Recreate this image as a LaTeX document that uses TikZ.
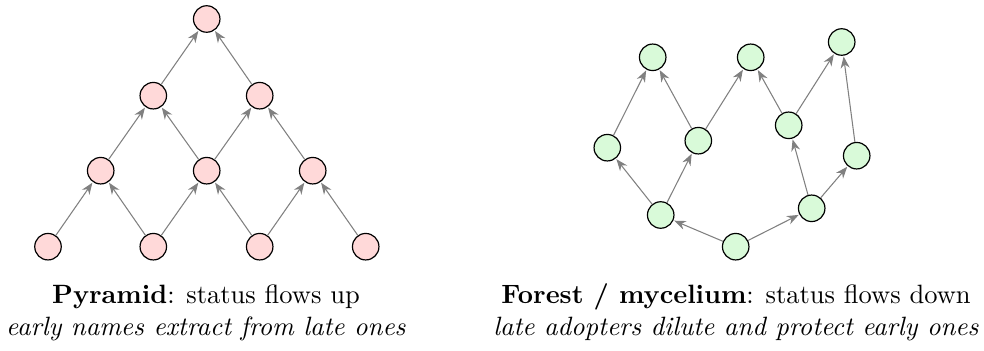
\documentclass[tikz,border=0pt]{standalone}
\usetikzlibrary{arrows.meta}
\definecolor{pinkfill}{RGB}{255,217,217}
\definecolor{greenfill}{RGB}{217,250,217}
\definecolor{edgegray}{RGB}{128,128,128}
\begin{document}
\begin{tikzpicture}[x=0.3774pt,y=-0.3774pt,
  pnode/.style={circle,draw=black,line width=0.45pt,fill=pinkfill,minimum size=10pt,inner sep=0pt},
  gnode/.style={pnode,fill=greenfill},
  flow/.style={draw=edgegray,line width=0.4pt,-{Stealth[length=4.4pt,width=3.4pt]},shorten >=0.3pt},
  caption/.style={align=center,font=\normalsize}]
\useasboundingbox (0,0) rectangle (984,351);
% Pyramid
\node[pnode] (t)  at (206.7,19) {};
\node[pnode] (m1) at (153.3,95.7) {};
\node[pnode] (m2) at (259.7,95.7) {};
\node[pnode] (l1) at (100.7,170.7) {};
\node[pnode] (l2) at (206.7,170.7) {};
\node[pnode] (l3) at (312.7,170.7) {};
\node[pnode] (b1) at (48,246.7) {};
\node[pnode] (b2) at (153.3,246.7) {};
\node[pnode] (b3) at (259.7,246.7) {};
\node[pnode] (b4) at (365.7,246.7) {};
\foreach \a/\b in {b1/l1,b2/l1,b2/l2,b3/l2,b3/l3,b4/l3,l1/m1,l2/m1,l2/m2,l3/m2,m1/t,m2/t}
  \draw[flow] (\a) -- (\b);
% Forest
\node[gnode] (a1) at (652.7,57.3) {};
\node[gnode] (a2) at (750.7,57.3) {};
\node[gnode] (a3) at (841.7,42) {};
\node[gnode] (f1) at (607.3,147.7) {};
\node[gnode] (f2) at (698.3,140.7) {};
\node[gnode] (f3) at (788.7,125.3) {};
\node[gnode] (f4) at (856.7,155.7) {};
\node[gnode] (c1) at (660.7,215) {};
\node[gnode] (c2) at (811.7,208.3) {};
\node[gnode] (d)  at (735.7,246.7) {};
\foreach \a/\b in {d/c1,d/c2,c1/f1,c1/f2,f1/a1,f2/a1,f2/a2,c2/f3,c2/f4,f3/a2,f3/a3,f4/a3}
  \draw[flow] (\a) -- (\b);
% Captions
\node[caption] (capL) at (206,312.5) {\textbf{Pyramid}: status flows up\\\textit{early names extract from late ones}};
\node[caption] (capR) at (736,312.5) {\textbf{Forest / mycelium}: status flows down\\\textit{late adopters dilute and protect early ones}};
\end{tikzpicture}
\end{document}
